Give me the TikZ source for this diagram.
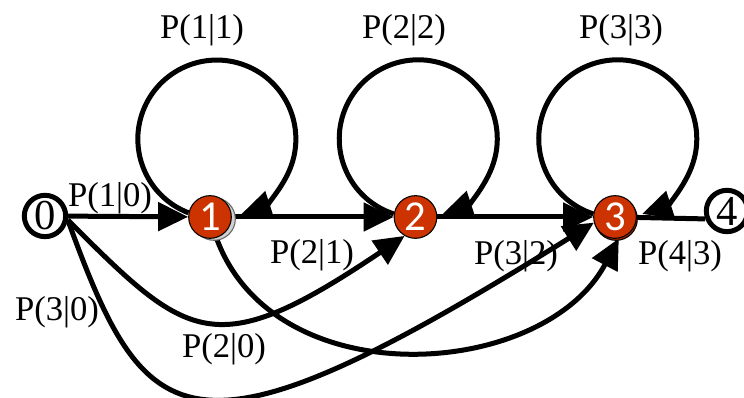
\documentclass[tikz,border=0pt]{standalone}
\usepackage{fontspec}
\setmainfont{Liberation Serif}
\newfontfamily\statefont{Carlito}
\usepackage{tikz}
\usetikzlibrary{arrows.meta,backgrounds}
\definecolor{stateorange}{RGB}{204,51,0}

\begin{document}
\begin{tikzpicture}[x=0.75pt,y=0.75pt,>={Triangle[length=22.5pt,width=21pt]},
		link/.style={line width=3.75pt},
		state/.style={circle,draw=black,line width=0.8pt,fill=stateorange,minimum size=32pt,inner sep=0pt,text=white,font=\statefont\fontsize{32}{32}\selectfont},
		endstate/.style={circle,draw=black,line width=3.75pt,fill=white,minimum size=31pt,inner sep=0pt,font=\fontsize{32}{32}\selectfont},
		prob/.style={inner sep=0pt,font=\fontsize{26}{26}\selectfont}]
		%\draw [help lines] (0,0) grid (744,398);
		\useasboundingbox (0,0) rectangle (744,398);
		\node [endstate] (s0) at (45,182) {0};
		\node [circle,draw=black!60,line width=0.8pt,fill=black!18,minimum size=32pt] (s1shadow) at (214,179) {};
		\node [state] (s1) at (210,181) {1};
		\node [state] (s2) at (415.5,181) {2};
		\node [state,fill=stateorange!85!black] (s3shadow) at (616,179) {};
		\node [state] (s3) at (615,181) {3};
		\node [endstate] (s4) at (727,187) {4};
		\begin{scope}[on background layer]
			\draw [link,->] (s0) -- (s1);
			\draw [link,->] (s1) -- (s2);
			\draw [link,->] (s2) -- (s3);
			\draw [link] (s3) -- (s4.200);
			\draw [link,->] (s1.169) arc [start angle=249, end angle=-72, radius=59.25pt];
			\draw [link,->] (s2.172) arc [start angle=252, end angle=-72, radius=59.25pt];
			\draw [link,->] (s3.172) arc [start angle=252, end angle=-72, radius=59.25pt];
			\draw [link,->] (s0.-10) to [out=-45, in=214, out distance=127.5pt, in distance=172.5pt] (s2.240);
			\draw [link,->] (s0.-10) to [out=-70, in=212, out distance=172.5pt, in distance=360pt] (s3.195);
			\draw [link,->] (s1.-73) to [out=-70, in=242, out distance=127.5pt, in distance=120pt] (s3.-80);
		\end{scope}
		\node [prob] (p11) at (202,368) {P(1|1)};
		\node [prob] (p22) at (404,368) {P(2|2)};
		\node [prob] (p33) at (621,368) {P(3|3)};
		\node [prob] (p10) at (110,200) {P(1|0)};
		\node [prob] (p21) at (312,143) {P(2|1)};
		\node [prob] (p32) at (516,142) {P(3|2)};
		\node [prob] (p43) at (680,142) {P(4|3)};
		\node [prob] (p30) at (57,86) {P(3|0)};
		\node [prob] (p20) at (224,49) {P(2|0)};
	\end{tikzpicture}
\end{document}
